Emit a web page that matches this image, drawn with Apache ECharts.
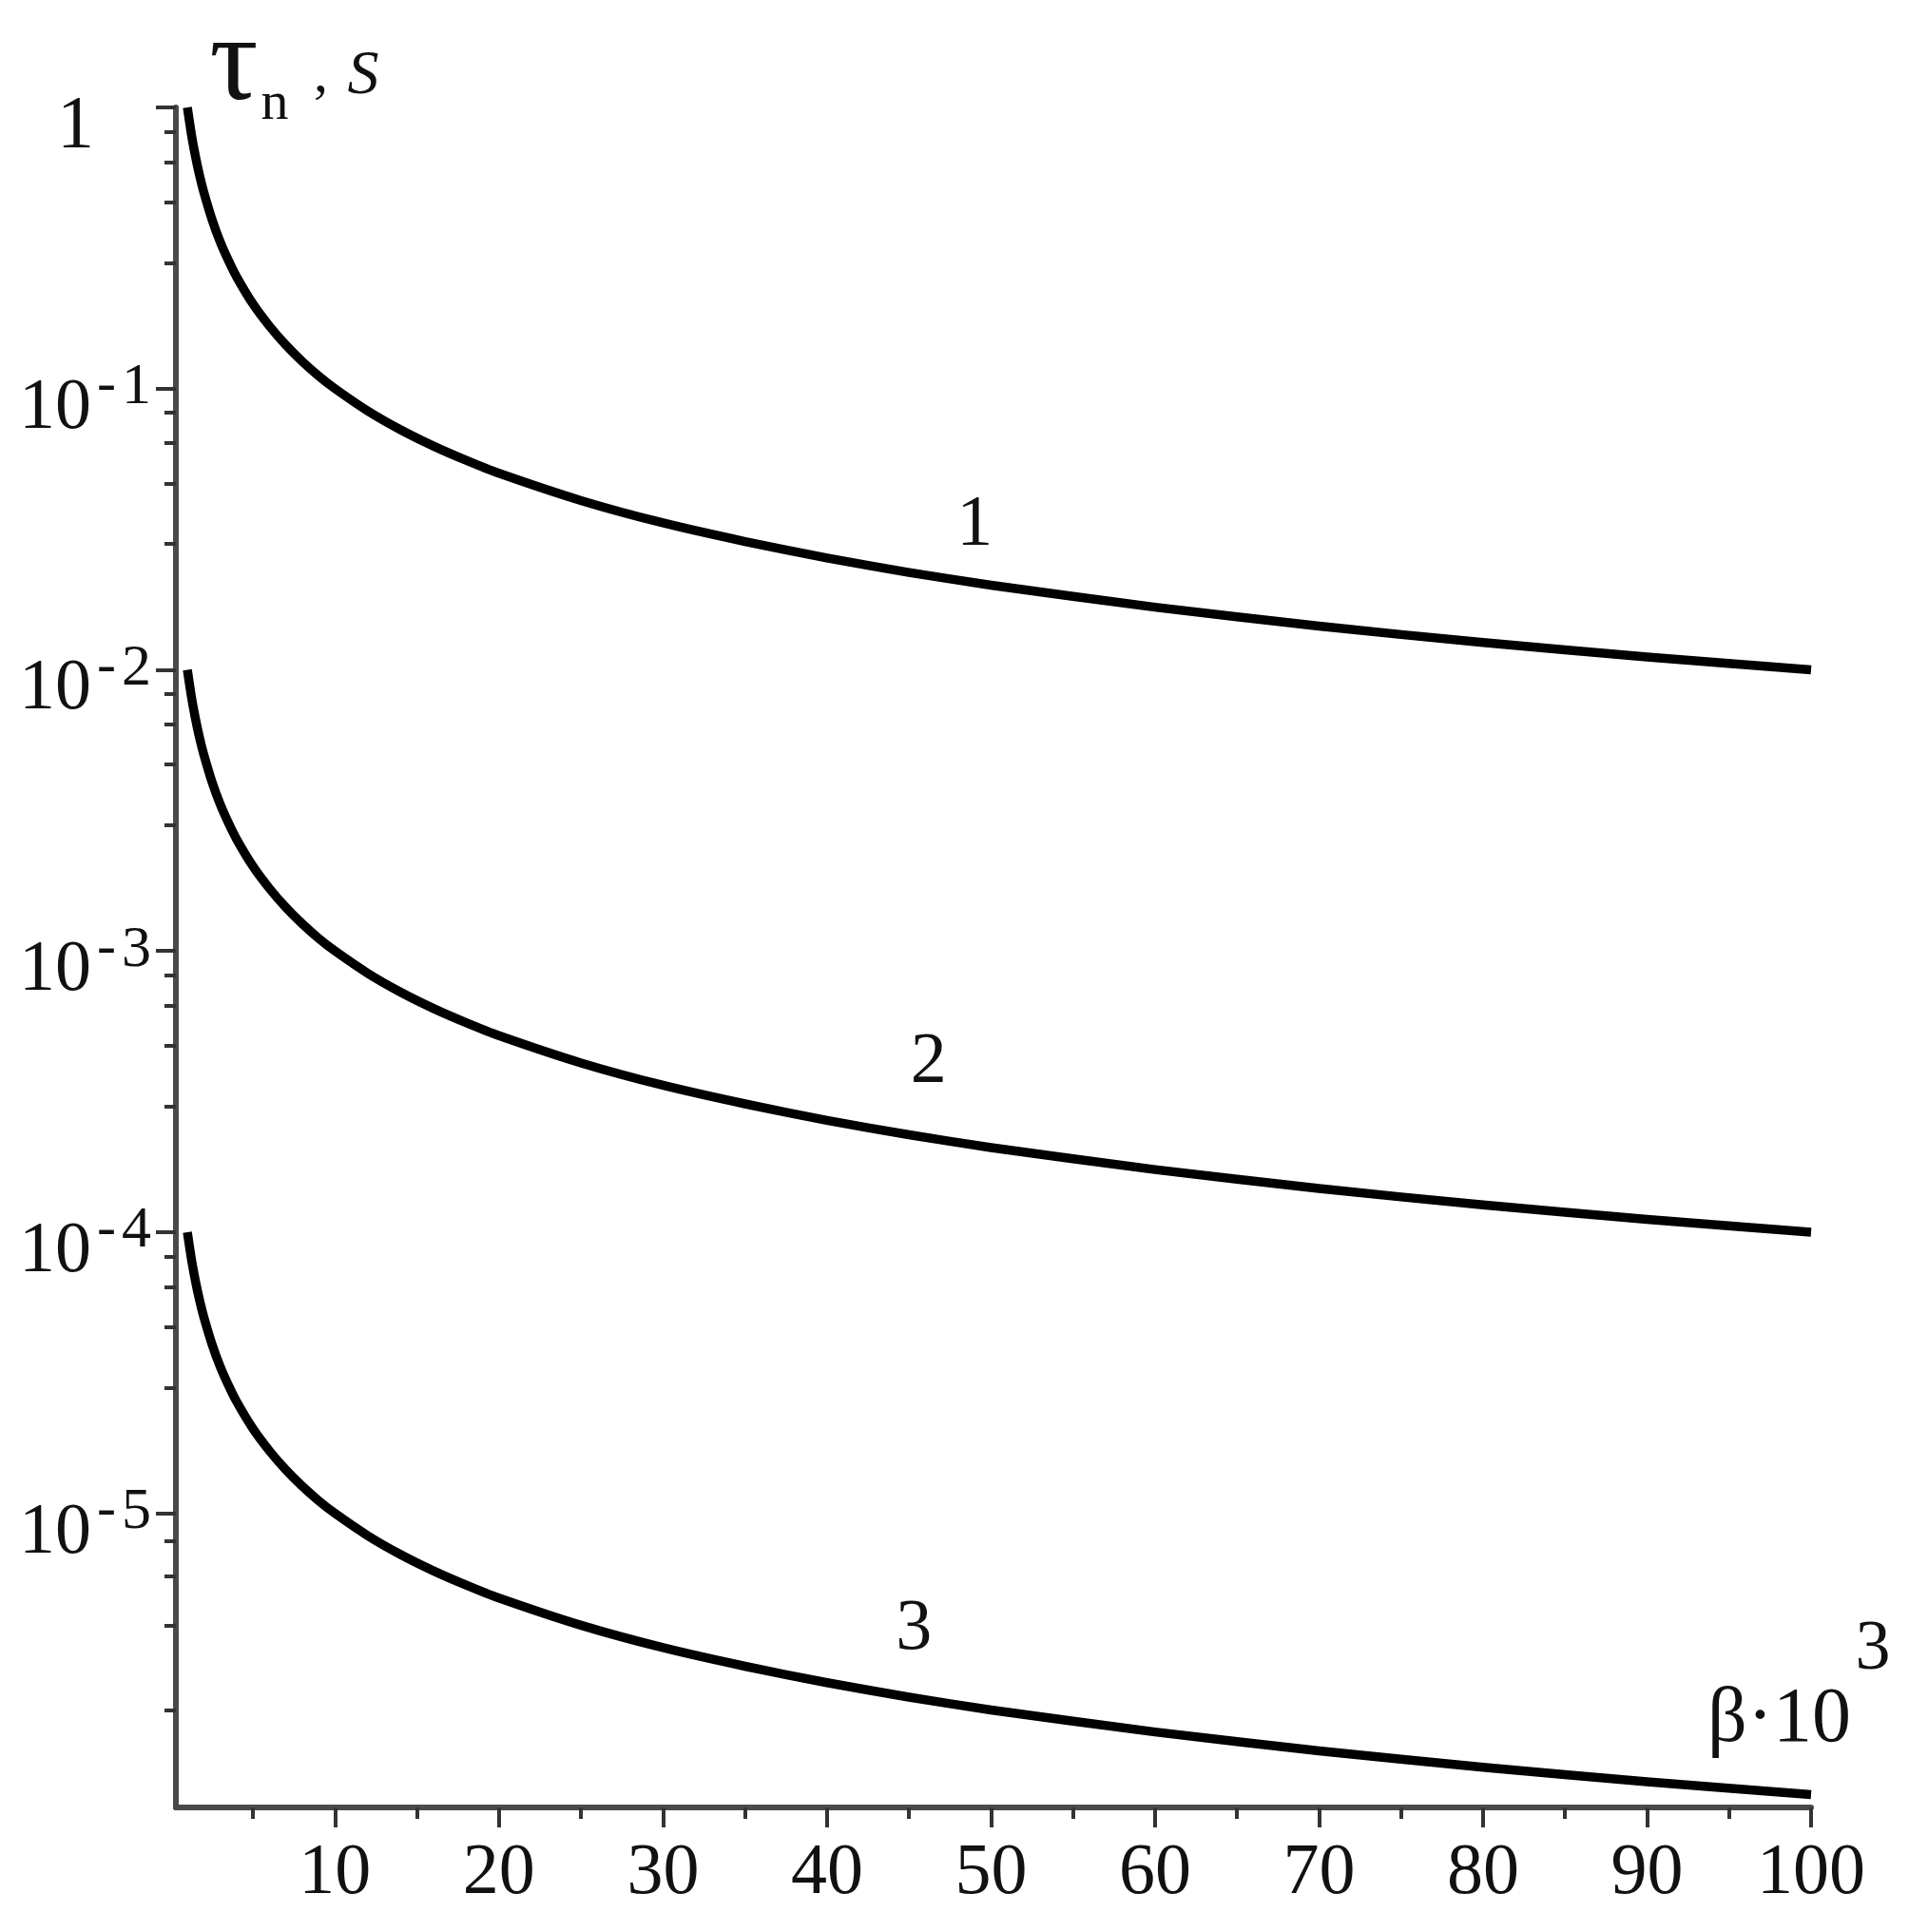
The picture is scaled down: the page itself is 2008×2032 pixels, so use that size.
<!DOCTYPE html>
<html><head><meta charset="utf-8">
<script src="https://cdn.jsdelivr.net/npm/echarts@6/dist/echarts.min.js"></script>
<style>html,body{margin:0;padding:0;background:#fff}#c{width:2008px;height:2032px}</style>
</head><body><div id="c"></div>
<script>
// beta * 10^3 values (x)
const beta = [1, 1.25, 1.5, 1.75, 2, 2.5, 3, 3.5, 4, 5, 6, 7, 8, 9, 10, 12, 14, 16, 18, 20, 25, 30, 35, 40, 45, 50, 60, 70, 80, 90, 100];
// curve 1
const tau1 = [1, 0.8, 0.667, 0.571, 0.5, 0.4, 0.333, 0.286, 0.25, 0.2, 0.167, 0.143, 0.125, 0.111, 0.1, 0.0833, 0.0714, 0.0625, 0.0556, 0.05, 0.04, 0.0333, 0.0286, 0.025, 0.0222, 0.02, 0.0167, 0.0143, 0.0125, 0.0111, 0.01];
// curve 2
const tau2 = [0.01, 0.008, 0.00667, 0.00571, 0.005, 0.004, 0.00333, 0.00286, 0.0025, 0.002, 0.00167, 0.00143, 0.00125, 0.00111, 0.001, 0.000833, 0.000714, 0.000625, 0.000556, 0.0005, 0.0004, 0.000333, 0.000286, 0.00025, 0.000222, 0.0002, 0.000167, 0.000143, 0.000125, 0.000111, 0.0001];
// curve 3
const tau3 = [1e-4, 8e-5, 6.67e-5, 5.71e-5, 5e-5, 4e-5, 3.33e-5, 2.86e-5, 2.5e-5, 2e-5, 1.67e-5, 1.43e-5, 1.25e-5, 1.11e-5, 1e-5, 8.33e-6, 7.14e-6, 6.25e-6, 5.56e-6, 5e-6, 4e-6, 3.33e-6, 2.86e-6, 2.5e-6, 2.22e-6, 2e-6, 1.67e-6, 1.43e-6, 1.25e-6, 1.11e-6, 1e-6];

const xTickLabels = [10, 20, 30, 40, 50, 60, 70, 80, 90, 100];
const xMinorTicks = [5, 15, 25, 35, 45, 55, 65, 75, 85, 95];
const yTickLabels = [1, 1e-1, 1e-2, 1e-3, 1e-4, 1e-5];
const yMinorTicks = [0.82, 0.64, 0.46, 0.28,
  0.082, 0.064, 0.046, 0.028,
  0.0082, 0.0064, 0.0046, 0.0028,
  8.2e-4, 6.4e-4, 4.6e-4, 2.8e-4,
  8.2e-5, 6.4e-5, 4.6e-5, 2.8e-5,
  8e-6, 6e-6, 4e-6, 2e-6];

const curveNames = ['1', '2', '3'];
const curveLabelX = [49, 46.2, 45.3];
const curveLabelY = [0.0325, 4.0e-4, 3.85e-6];

const X_MIN = 0.3, X_MAX = 100, Y_MIN = 9e-7, Y_MAX = 1;
const FONT = '"Liberation Serif", "Times New Roman", serif';
const AXIS_COLOR = '#4a4a4a';
const TEXT_COLOR = '#111';

const chart = echarts.init(document.getElementById('c'), null, {renderer: 'canvas'});

function pairs(xs, ys) { return xs.map((x, i) => [x, ys[i]]); }

const lineStyle = {color: '#000', width: 9.5, cap: 'butt', join: 'round'};
const series = [tau1, tau2, tau3].map((t, i) => ({
  type: 'line', name: 'curve' + curveNames[i], data: pairs(beta, t),
  showSymbol: false, symbol: 'none', smooth: 0.2, lineStyle: lineStyle,
  xAxisIndex: 0, yAxisIndex: 0, z: 5
}));
series.push({
  type: 'scatter', xAxisIndex: 0, yAxisIndex: 0, symbolSize: 0, z: 6,
  itemStyle: {color: '#000', opacity: 1},
  data: curveNames.map((n, i) => ({value: [curveLabelX[i], curveLabelY[i]], name: n})),
  label: {show: true, position: [0, 0], align: 'center', verticalAlign: 'middle', formatter: p => p.name,
    fontFamily: FONT, fontSize: 76, color: TEXT_COLOR, opacity: 1, textBorderWidth: 0}
});

chart.setOption({
  animation: false,
  backgroundColor: '#fff',
  grid: {left: 185, right: 103, top: 113, bottom: 131, containLabel: false, outerBoundsMode: 'none'},
  xAxis: [{
    type: 'value', min: X_MIN, max: X_MAX, position: 'bottom',
    axisLine: {show: true, lineStyle: {color: AXIS_COLOR, width: 6}},
    axisTick: {show: true, customValues: xTickLabels, length: 21, lineStyle: {color: '#333', width: 4}},
    axisLabel: {show: true, customValues: xTickLabels, margin: 32, fontFamily: FONT, fontSize: 76, color: TEXT_COLOR},
    splitLine: {show: false}
  }, {
    type: 'value', min: X_MIN, max: X_MAX, position: 'bottom', gridIndex: 0,
    axisLine: {show: false},
    axisTick: {show: true, customValues: xMinorTicks, length: 12, lineStyle: {color: '#333', width: 4}},
    axisLabel: {show: false},
    splitLine: {show: false}
  }],
  yAxis: [{
    type: 'log', logBase: 10, min: Y_MIN, max: Y_MAX, position: 'left',
    axisLine: {show: true, lineStyle: {color: AXIS_COLOR, width: 6}},
    axisTick: {show: true, customValues: yTickLabels, length: 21, lineStyle: {color: '#333', width: 4}},
    axisLabel: {show: true, customValues: yTickLabels, margin: 165, align: 'left',
      formatter: v => {
        const e = Math.round(Math.log10(v));
        if (e === 0) return '{one|1}';
        return '{b|10}{m|-}{s|' + (-e) + '}';
      },
      rich: {
        b: {fontFamily: FONT, fontSize: 76, lineHeight: 64, padding: [42, 0, 0, 0], color: TEXT_COLOR},
        m: {fontFamily: FONT, fontSize: 60, lineHeight: 60, verticalAlign: 'top', padding: [0, 6, 0, 6], color: TEXT_COLOR},
        s: {fontFamily: FONT, fontSize: 62, lineHeight: 60, verticalAlign: 'top', color: TEXT_COLOR},
        one: {fontFamily: FONT, fontSize: 78, lineHeight: 64, padding: [42, 0, 0, 40], color: TEXT_COLOR}
      }
    },
    splitLine: {show: false}
  }, {
    type: 'log', logBase: 10, min: Y_MIN, max: Y_MAX, position: 'left', gridIndex: 0,
    axisLine: {show: false},
    axisTick: {show: true, customValues: yMinorTicks, length: 12, lineStyle: {color: '#333', width: 4}},
    axisLabel: {show: false},
    splitLine: {show: false}
  }],
  graphic: [
    {type: 'text', x: 246, y: 70, style: {text: 'τ', font: '128px ' + FONT, fill: TEXT_COLOR, align: 'center', verticalAlign: 'middle', textAlign: 'center', textVerticalAlign: 'middle'}},
    {type: 'text', x: 289, y: 110, style: {text: 'n', font: '58px ' + FONT, fill: TEXT_COLOR, align: 'center', verticalAlign: 'middle', textAlign: 'center', textVerticalAlign: 'middle'}},
    {type: 'text', x: 330, y: 80, style: {text: ',', font: '60px ' + FONT, fill: TEXT_COLOR, align: 'left', verticalAlign: 'middle', textAlign: 'left', textVerticalAlign: 'middle'}},
    {type: 'text', x: 382, y: 81, style: {text: 'S', font: 'italic 66px ' + FONT, fill: TEXT_COLOR, align: 'center', verticalAlign: 'middle', textAlign: 'center', textVerticalAlign: 'middle'}},
    {type: 'text', x: 1947, y: 1809, style: {text: 'β·10', font: '82px ' + FONT, fill: TEXT_COLOR, align: 'right', verticalAlign: 'middle', textAlign: 'right', textVerticalAlign: 'middle'}},
    {type: 'text', x: 1970, y: 1736, style: {text: '3', font: '74px ' + FONT, fill: TEXT_COLOR, align: 'center', verticalAlign: 'middle', textAlign: 'center', textVerticalAlign: 'middle'}}
  ],
  series: series
});
</script>
</body></html>
